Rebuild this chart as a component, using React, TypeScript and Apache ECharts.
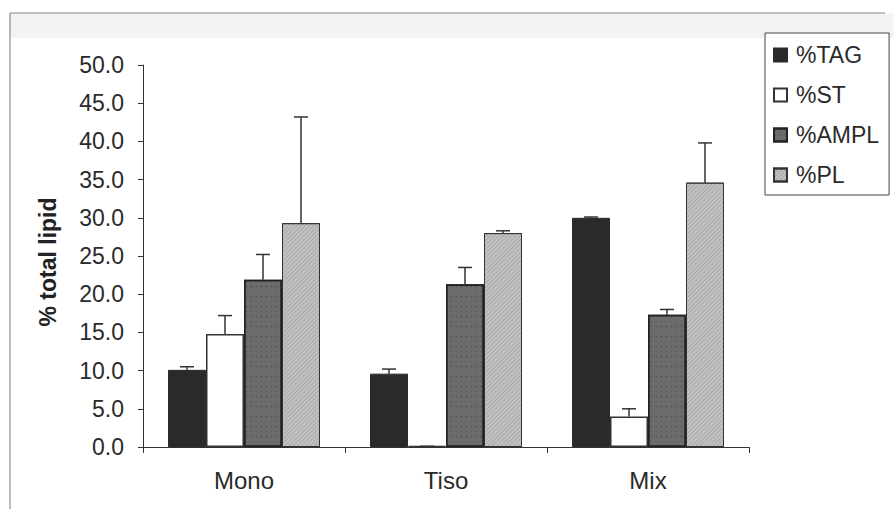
import React, { useEffect, useRef } from "react";
import * as echarts from "echarts";

const categories = ["Mono", "Tiso", "Mix"];
const seriesNames = ["%TAG", "%ST", "%AMPL", "%PL"];
const tagValues = [10.1, 9.6, 30.0];
const tagErrors = [0.4, 0.6, 0.1];
const stValues = [14.8, 0.1, 4.0];
const stErrors = [2.4, 0, 1.0];
const amplValues = [21.9, 21.3, 17.3];
const amplErrors = [3.3, 2.2, 0.7];
const plValues = [29.3, 28.0, 34.6];
const plErrors = [13.9, 0.3, 5.2];
const yTicks = [0, 5, 10, 15, 20, 25, 30, 35, 40, 45, 50];

const FONT = "'Liberation Sans', Arial, Helvetica, sans-serif";
const BAR_W = 38;

export default function App() {
  const ref = useRef<HTMLDivElement>(null);
  useEffect(() => {
    document.body.style.margin = "0";
    const chart = echarts.init(ref.current!, null, { renderer: "svg" });
    const values = [tagValues, stValues, amplValues, plValues];
    const errors = [tagErrors, stErrors, amplErrors, plErrors];
    const styles = [
      { color: "#2a2a2a", borderColor: "#2a2a2a", borderWidth: 1 },
      { color: "#ffffff", borderColor: "#333333", borderWidth: 1.5 },
      {
        color: "#6c6c6c",
        borderColor: "#222222",
        borderWidth: 1.5,
        decal: {
          symbol: "circle",
          symbolSize: 0.6,
          dashArrayX: [[3, 2], [2, 3]],
          dashArrayY: [3, 2],
          color: "rgba(40,40,40,0.35)",
        },
      },
      {
        color: "#c2c2c2",
        borderColor: "#333333",
        borderWidth: 1,
        decal: {
          symbol: "rect",
          dashArrayX: [1, 0],
          dashArrayY: [1, 2],
          rotation: -Math.PI / 4,
          color: "rgba(90,90,90,0.25)",
        },
      },
    ];
    const barSeries = seriesNames.map((name, i) => ({
      name,
      type: "bar",
      data: values[i],
      barWidth: BAR_W,
      barGap: "0%",
      itemStyle: styles[i],
      z: 2,
    }));
    const errSeries = seriesNames.map((name, i) => ({
      name: name + " err",
      type: "custom",
      z: 3,
      silent: true,
      data: values[i].map((v, k) => [k, v, v + errors[i][k]]),
      renderItem: (params: any, api: any) => {
        const k = api.value(0);
        const lo = api.coord([k, api.value(1)]);
        const hi = api.coord([k, api.value(2)]);
        const x = lo[0] + (i - 1.5) * BAR_W;
        const cap = 7;
        return {
          type: "group",
          children: [
            {
              type: "line",
              shape: { x1: x, y1: lo[1], x2: x, y2: hi[1] },
              style: { stroke: "#333", lineWidth: 1.5 },
            },
            {
              type: "line",
              shape: { x1: x - cap, y1: hi[1], x2: x + cap, y2: hi[1] },
              style: { stroke: "#333", lineWidth: 1.5 },
            },
          ],
        };
      },
    }));
    chart.setOption({
      animation: false,
      backgroundColor: "#ffffff",
      textStyle: { fontFamily: FONT },
      graphic: [
        {
          type: "rect",
          shape: { x: 10, y: 13, width: 883, height: 25 },
          style: { fill: "#f3f3f3" },
          z: -10,
        },
        {
          type: "line",
          shape: { x1: 10, y1: 13, x2: 885, y2: 13 },
          style: { stroke: "#8a8a8a", lineWidth: 1 },
        },
        {
          type: "line",
          shape: { x1: 10, y1: 13, x2: 10, y2: 509 },
          style: { stroke: "#777", lineWidth: 1 },
        },
        {
          type: "text",
          x: 48,
          y: 262,
          rotation: Math.PI / 2,
          style: {
            text: "% total lipid",
            fontFamily: FONT,
            fontSize: 23,
            fontWeight: "bold",
            fill: "#222",
            align: "center",
            verticalAlign: "middle",
          },
        },
      ],
      legend: {
        data: seriesNames,
        orient: "vertical",
        left: 765,
        top: 33,
        itemWidth: 13,
        itemHeight: 13,
        itemGap: 16,
        padding: [10, 10, 8, 8],
        borderColor: "#444",
        borderWidth: 1,
        backgroundColor: "#fff",
        icon: "rect",
        textStyle: { fontSize: 23, color: "#2a2a2a", fontFamily: FONT, lineHeight: 24, padding: [0, 0, 0, 4] },
      },
      grid: { left: 143, right: 144, top: 65, bottom: 62 },
      xAxis: {
        type: "category",
        data: categories,
        axisLine: { lineStyle: { color: "#333", width: 1 } },
        axisTick: { show: true, length: 6, lineStyle: { color: "#333" } },
        axisLabel: { fontSize: 24, color: "#2a2a2a", margin: 21, fontFamily: FONT },
      },
      yAxis: {
        type: "value",
        min: yTicks[0],
        max: yTicks[yTicks.length - 1],
        interval: 5,
        axisLine: { show: true, lineStyle: { color: "#333", width: 1 } },
        axisTick: { show: true, length: 5, lineStyle: { color: "#333" } },
        splitLine: { show: false },
        axisLabel: {
          fontSize: 23,
          color: "#2a2a2a",
          margin: 19,
          fontFamily: FONT,
          formatter: (v: number) => v.toFixed(1),
        },
      },
      series: [...barSeries, ...errSeries],
    });
    return () => chart.dispose();
  }, []);
  return <div ref={ref} style={{ width: 893, height: 509 }} />;
}
